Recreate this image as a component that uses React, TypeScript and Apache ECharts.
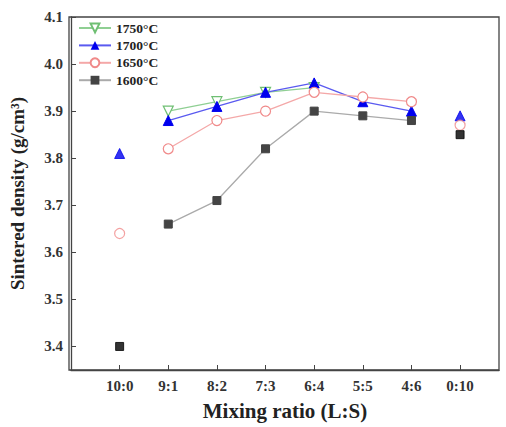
import React, { useEffect, useRef } from "react";
import * as echarts from "echarts";

const categories = ["10:0", "9:1", "8:2", "7:3", "6:4", "5:5", "4:6", "0:10"];
const yTicks = [3.4, 3.5, 3.6, 3.7, 3.8, 3.9, 4.0, 4.1];

// connected values (index 1..6), null where absent
const s1750: (number | null)[] = [null, 3.9, 3.92, 3.94, 3.95, null, null, null];
const s1700: (number | null)[] = [null, 3.88, 3.91, 3.94, 3.96, 3.92, 3.9, null];
const s1650: (number | null)[] = [null, 3.82, 3.88, 3.9, 3.94, 3.93, 3.92, null];
const s1600: (number | null)[] = [null, 3.66, 3.71, 3.82, 3.9, 3.89, 3.88, null];

// isolated end points (10:0 and 0:10)
const iso1700: (number | null)[] = [3.81, null, null, null, null, null, null, 3.89];
const iso1650: (number | null)[] = [3.64, null, null, null, null, null, null, 3.87];
const iso1600: (number | null)[] = [3.4, null, null, null, null, null, null, 3.85];

const FONT = "'Liberation Serif', 'DejaVu Serif', serif";

function toPairs(arr: (number | null)[]) {
  const out: [number, number][] = [];
  arr.forEach((v, i) => {
    if (v !== null) out.push([i, v]);
  });
  return out;
}

export default function App() {
  const ref = useRef<HTMLDivElement>(null);
  useEffect(() => {
    if (!ref.current) return;
    const chart = echarts.init(ref.current, undefined, { renderer: "svg" });
    const lineSeries = (
      name: string,
      data: (number | null)[],
      color: string,
      lineColor: string,
      symbol: string,
      size: number,
      rotate = 0,
      filled = true
    ) => ({
      name,
      type: "line",
      data: toPairs(data),
      symbol,
      symbolSize: size,
      symbolRotate: rotate,
      lineStyle: { color: lineColor, width: 1.3 },
      itemStyle: filled
        ? { color, borderColor: color }
        : { color: "#fff", borderColor: color, borderWidth: 1.2 },
      z: 3,
    });
    const isoSeries = (
      data: (number | null)[],
      color: string,
      symbol: string,
      size: number,
      filled = true
    ) => ({
      type: "scatter",
      data: toPairs(data),
      symbol,
      symbolSize: size,
      itemStyle: filled
        ? { color, borderColor: color }
        : { color: "#fff", borderColor: color, borderWidth: 1.2 },
      z: 3,
    });
    chart.setOption({
      animation: false,
      backgroundColor: "#fff",
      grid: { left: 69, right: 7, top: 17, bottom: 57, containLabel: false },
      legend: {
        orient: "vertical",
        left: 78,
        top: 21,
        padding: 0,
        itemWidth: 32,
        itemHeight: 11,
        itemGap: 3.4,
        textStyle: { fontFamily: FONT, fontWeight: "bold", fontSize: 13.5, color: "#222" },
        data: ["1750°C", "1700°C", "1650°C", "1600°C"],
      },
      xAxis: {
        type: "value",
        min: -1,
        max: 7.8,
        interval: 1,
        name: "Mixing ratio (L:S)",
        nameLocation: "middle",
        nameGap: 30,
        nameTextStyle: { fontFamily: FONT, fontWeight: "bold", fontSize: 21, color: "#222" },
        axisLine: { show: true, onZero: false, lineStyle: { color: "#444", width: 1.3 } },
        axisTick: {
          show: true,
          inside: true,
          length: 5,
          lineStyle: { color: "#444" },
          customValues: [0, 1, 2, 3, 4, 5, 6, 7],
        },
        axisLabel: {
          fontFamily: FONT,
          fontWeight: "bold",
          fontSize: 15,
          color: "#333",
          margin: 8,
          customValues: [0, 1, 2, 3, 4, 5, 6, 7],
          formatter: (v: number) => categories[Math.round(v)] ?? "",
        },
        splitLine: { show: false },
      },
      yAxis: {
        type: "value",
        min: 3.35,
        max: 4.1,
        name: "Sintered density (g/cm³)",
        nameLocation: "middle",
        nameGap: 44,
        nameTextStyle: { fontFamily: FONT, fontWeight: "bold", fontSize: 19, color: "#222" },
        axisLine: { show: true, onZero: false, lineStyle: { color: "#444", width: 1.3 } },
        axisTick: {
          show: true,
          inside: true,
          length: 5,
          lineStyle: { color: "#444" },
          customValues: yTicks,
        },
        axisLabel: {
          fontFamily: FONT,
          fontWeight: "bold",
          fontSize: 15,
          color: "#333",
          margin: 8,
          customValues: yTicks,
          formatter: (v: number) => v.toFixed(1),
        },
        splitLine: { show: false },
      },
      graphic: [
        {
          type: "rect",
          shape: { x: 69, y: 17, width: 430, height: 353 },
          style: { fill: "none", stroke: "#444", lineWidth: 1.3 },
          silent: true,
          z: 0,
        },
      ],
      series: [
        lineSeries("1750°C", s1750, "#6fbf73", "#8fcf93", "triangle", 10, 180, false),
        lineSeries("1700°C", s1700, "#0000ee", "#5a5af0", "triangle", 10),
        lineSeries("1650°C", s1650, "#f08a8a", "#f4a8a8", "circle", 10, 0, false),
        lineSeries("1600°C", s1600, "#444444", "#aaaaaa", "rect", 8),
        isoSeries(iso1700, "#0000ee", "triangle", 10),
        isoSeries(iso1650, "#f08a8a", "circle", 10, false),
        isoSeries(iso1600, "#000000", "rect", 8),
      ],
    });
    return () => chart.dispose();
  }, []);
  return (
    <div
      ref={ref}
      style={{ position: "absolute", left: 0, top: 0, width: 506, height: 427 }}
    />
  );
}
